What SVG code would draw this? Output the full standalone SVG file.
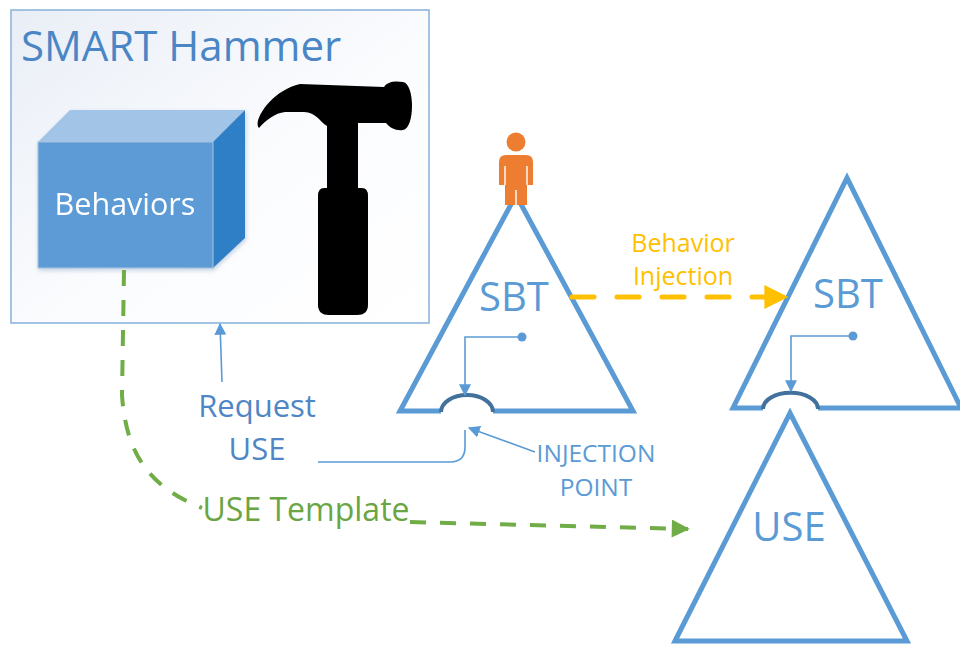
<svg xmlns="http://www.w3.org/2000/svg" width="960" height="645" viewBox="0 0 960 645">
  <defs>
    <linearGradient id="boxFill" x1="0" y1="0" x2="1" y2="1">
      <stop offset="0" stop-color="#e9eef6"/>
      <stop offset="0.55" stop-color="#fbfcfe"/>
      <stop offset="1" stop-color="#ffffff"/>
    </linearGradient>
    <filter id="soft" x="-10%" y="-10%" width="130%" height="130%">
      <feDropShadow dx="1" dy="2" stdDeviation="2" flood-color="#8aa8c8" flood-opacity="0.5"/>
    </filter>
    <marker id="arrBlueSm" viewBox="0 0 10 10" refX="9" refY="5" markerWidth="12" markerHeight="12" markerUnits="userSpaceOnUse" orient="auto">
      <path d="M0,0 L10,5 L0,10 Z" fill="#5b9bd5"/>
    </marker>
    <marker id="arrYellow" viewBox="0 0 10 10" refX="9" refY="5" markerWidth="26" markerHeight="24" markerUnits="userSpaceOnUse" orient="auto">
      <path d="M0,0 L10,5 L0,10 Z" fill="#ffc000"/>
    </marker>
    <marker id="arrGreen" viewBox="0 0 10 10" refX="9" refY="5" markerWidth="22" markerHeight="18" markerUnits="userSpaceOnUse" orient="auto">
      <path d="M0,0 L10,5 L0,10 Z" fill="#70ad47"/>
    </marker>
  </defs>
  <style>
    text { font-family: "Open Sans", "Liberation Sans", sans-serif; }
    .tri { fill: none; stroke: #5b9bd5; stroke-width: 5; stroke-linejoin: miter; }
    .bump { fill: none; stroke: #41719c; stroke-width: 4; }
    .thin { fill: none; stroke: #5b9bd5; stroke-width: 1.6; }
    .big { font-size: 40px; fill: #5b9bd5; text-anchor: middle; }
    .lbl { font-size: 31px; fill: #4f86c6; text-anchor: middle; }
    .inj { font-size: 24.5px; fill: #5b9bd5; text-anchor: middle; }
    .beh { font-size: 25px; fill: #ffc000; text-anchor: middle; }
    .green-dash { fill: none; stroke: #70ad47; stroke-width: 4; stroke-dasharray: 16 14; }
  </style>

  <rect width="960" height="645" fill="#ffffff"/>

  <!-- SMART Hammer container -->
  <g id="smart-hammer">
    <rect x="11" y="10" width="418" height="313" fill="url(#boxFill)" stroke="#8fb6de" stroke-width="1.6"/>
    <text x="21" y="61" font-size="42" fill="#4a86c5">SMART Hammer</text>
    <!-- hammer silhouette -->
    <path fill="#000000" d="M259,128 C252,121 272,90 300,84 L384,87 C388,81 396,81 403,82 C415,84 415,128 403,130 C396,131 390,128 386,123 L358,123 L358,188 L362,188 Q368,188 368,196 L368,305 Q368,315 357,315 L329,315 Q318,315 318,305 L318,196 Q318,188 324,188 L327,188 L327,126 C320,122 316,112 304,112 L285,112 C275,113 266,120 259,128 Z"/>
  </g>

  <!-- Behaviors cube -->
  <g id="behaviors" filter="url(#soft)">
    <polygon points="38,142 70,110 245,110 213,142" fill="#a2c5e7"/>
    <polygon points="213,142 245,110 245,238 213,268" fill="#2f7fc6"/>
    <rect x="38" y="142" width="175" height="126" fill="#5b9bd5" stroke="#a9c4dd" stroke-width="1"/>
    <text x="125" y="215" font-size="30.5" fill="#ffffff" text-anchor="middle">Behaviors</text>
  </g>

  <!-- left SBT tree with its injection point -->
  <g id="sbt-left">
    <path class="tri" d="M441,411 L400,411 L516,195 L633,411 L493,411"/>
    <path class="bump" d="M441,412 A26,17 0 0 1 493,412"/>
    <text class="big" x="514" y="311">SBT</text>
    <circle cx="522" cy="337" r="4.5" fill="#5b9bd5"/>
  </g>

  <!-- user on top of the left tree -->
  <g id="user" fill="#ed7d31">
    <circle cx="516" cy="142" r="9.5"/>
    <path d="M499,162 Q499,155 506,155 L526,155 Q533,155 533,162 L533,185 L527,185 L527,205 L505,205 L505,185 L499,185 Z"/>
    <path d="M505,166 L505,185 M527,166 L527,185 M516,190 L516,206" stroke="#ffffff" stroke-width="1.4" fill="none"/>
  </g>

  <!-- right SBT tree -->
  <g id="sbt-right">
    <path class="tri" d="M763,408 L733,408 L847,178 L961,408 L818,408"/>
    <path class="bump" d="M763,409 A27,16 0 0 1 818,409"/>
    <text class="big" x="848" y="308">SBT</text>
    <circle cx="853" cy="336" r="4.5" fill="#5b9bd5"/>
  </g>

  <!-- USE tree plugged into the right SBT -->
  <g id="use">
    <path class="tri" d="M675,641 L790,413 L907,641 Z"/>
    <text class="big" x="789" y="541">USE</text>
  </g>

  <!-- free labels -->
  <g id="labels">
    <text class="lbl" x="257" y="417">Request</text>
    <text class="lbl" x="257" y="460">USE</text>
    <text class="inj" x="596" y="462">INJECTION</text>
    <text class="inj" x="596" y="496">POINT</text>
    <text class="beh" x="683" y="252">Behavior</text>
    <text class="beh" x="683" y="285">Injection</text>
    <text x="306" y="521" font-size="32" fill="#6aa544" text-anchor="middle">USE Template</text>
  </g>

  <!-- connectors -->
  <g id="connectors">
    <path class="thin" d="M522,337 L465,337 L465,395" marker-end="url(#arrBlueSm)"/>
    <path class="thin" d="M853,336 L791,336 L791,391" marker-end="url(#arrBlueSm)"/>
    <path class="thin" d="M222,382 L220,324" marker-end="url(#arrBlueSm)"/>
    <path class="thin" d="M318,462 L450,462 Q465,462 465,447 L465,430"/>
    <path class="thin" d="M535,452 L469,428" marker-end="url(#arrBlueSm)"/>
    <path d="M572,297 L786,297" fill="none" stroke="#ffc000" stroke-width="5" stroke-linecap="round" stroke-dasharray="22 23" marker-end="url(#arrYellow)"/>
    <path class="green-dash" d="M124,270 L122,395 C126,455 150,487 202,508"/>
    <path class="green-dash" d="M410,522 L688,529" marker-end="url(#arrGreen)"/>
  </g>
</svg>
